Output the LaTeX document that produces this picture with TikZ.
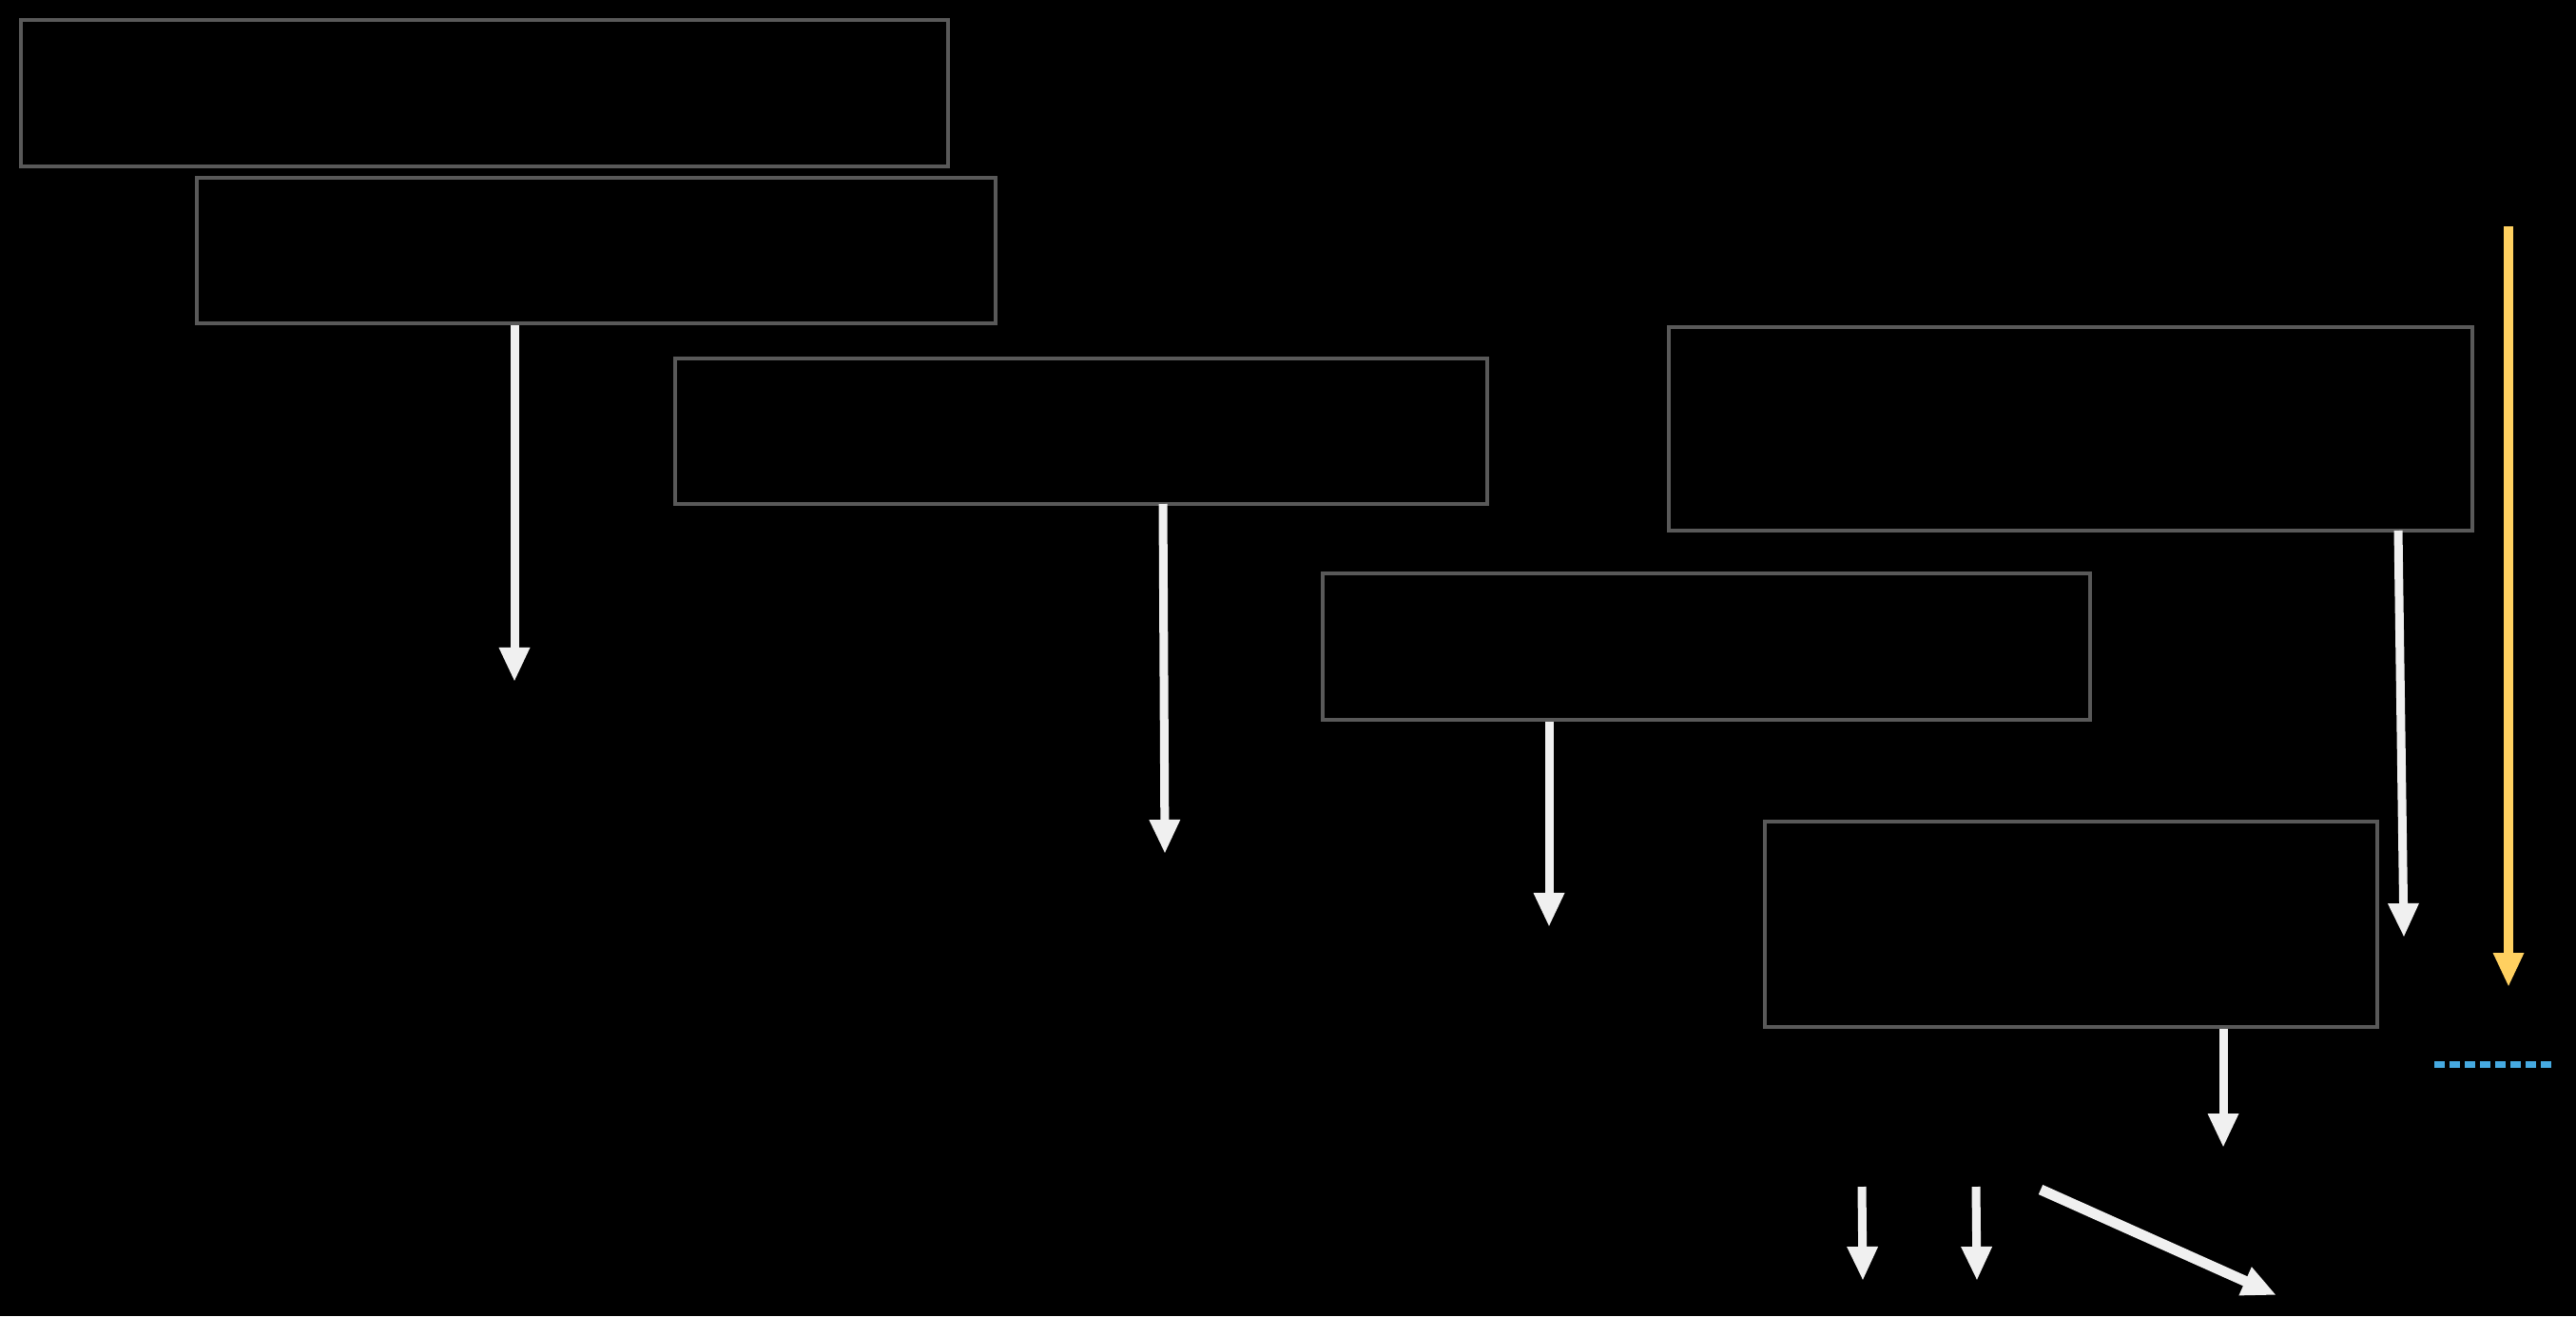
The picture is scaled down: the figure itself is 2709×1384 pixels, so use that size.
\documentclass[tikz,border=0pt]{standalone}
\usepackage{xcolor}
\usetikzlibrary{arrows.meta}

\definecolor{boxgrey}{RGB}{89,89,89}
\definecolor{flowwhite}{RGB}{240,240,240}
\definecolor{timeyellow}{RGB}{255,208,96}
\definecolor{limitblue}{RGB}{70,170,225}

\tikzset{
  stage/.style={draw=boxgrey, line width=0.04cm, rectangle, inner sep=0pt},
  flow/.style={->, draw=flowwhite, line width=0.09cm},
}

\begin{document}
\begin{tikzpicture}[x=0.01cm, y=-0.01cm,
    >={Triangle[length=0.36cm, width=0.3cm]}]
    \fill[black] (0,0) rectangle (2709,1384);
    \useasboundingbox (0,0) rectangle (2709,1384);
    % stages
    \node[stage, minimum width=9.75cm, minimum height=1.54cm] (s1) at (509.5, 98) {};
    \node[stage, minimum width=8.40cm, minimum height=1.53cm] (s2) at (627, 263.5) {};
    \node[stage, minimum width=8.54cm, minimum height=1.53cm] (s3) at (1137, 453.5) {};
    \node[stage, minimum width=8.45cm, minimum height=2.14cm] (s4) at (2177.5, 451) {};
    \node[stage, minimum width=8.07cm, minimum height=1.54cm] (s5) at (1794.5, 680) {};
    \node[stage, minimum width=6.44cm, minimum height=2.16cm] (s6) at (2178, 972) {};
    % arrow ends
    \coordinate (e2) at (541, 717);
    \coordinate (e3) at (1225, 898);
    \coordinate (e5) at (1629, 975);
    \coordinate (e4) at (2528, 986);
    \coordinate (e6) at (2338, 1207);
    \coordinate (t0) at (2638, 238);
    \coordinate (t1) at (2638, 1038);
    \coordinate (l0) at (2560, 1119);
    \coordinate (l1) at (2688, 1119);
    \coordinate (a0) at (1958, 1248);
    \coordinate (a1) at (1959, 1347);
    \coordinate (b0) at (2078, 1248);
    \coordinate (b1) at (2079, 1347);
    \coordinate (c0) at (2146, 1251);
    \coordinate (c1) at (2394, 1362);
    % connectors
    \draw[flow] (s2.south -| e2) -- (e2);
    \draw[flow] (1223, 530) -- (e3);
    \draw[flow] (s5.south -| e5) -- (e5);
    \draw[flow] (2522, 558) -- (e4);
    \draw[flow] (s6.south -| e6) -- (e6);
    \draw[flow] (a0) -- (a1);
    \draw[flow] (b0) -- (b1);
    \draw[flow, line width=0.11cm] (c0) -- (c1);
    \draw[->, draw=timeyellow, line width=0.1cm] (t0) -- (t1);
    \draw[draw=limitblue, line width=0.07cm, dash pattern=on 0.11cm off 0.05cm] (l0) -- (l1);
\end{tikzpicture}
\end{document}
